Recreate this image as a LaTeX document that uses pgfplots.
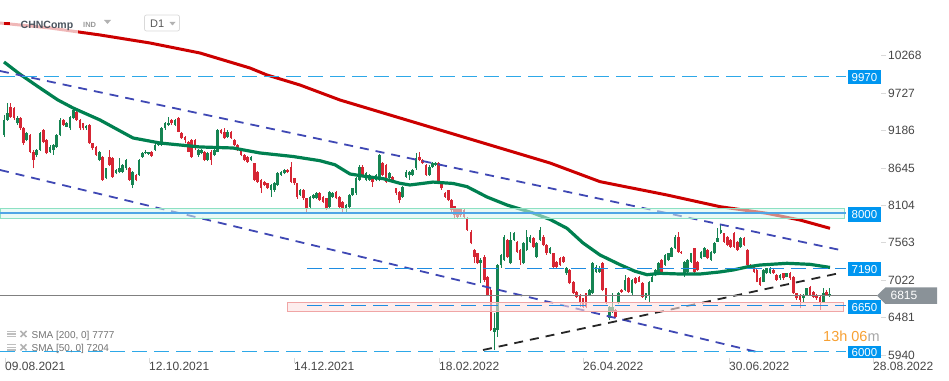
\documentclass[border=0pt]{standalone}
\usepackage{pgfplots}
\usepackage{pgfplotstable}
\pgfplotsset{compat=1.18}
\usepackage{fontspec}
\setmainfont{Liberation Sans}

\definecolor{cgreen}{RGB}{22,132,82}
\definecolor{cred}{RGB}{214,38,52}
\definecolor{sma200}{RGB}{204,0,0}
\definecolor{sma50}{RGB}{0,128,80}
\definecolor{chan}{RGB}{63,72,180}
\definecolor{hblue}{RGB}{45,168,232}
\definecolor{hblue2}{RGB}{30,140,225}
\definecolor{lineblue}{RGB}{80,165,230}
\definecolor{boxblue}{RGB}{0,150,240}
\definecolor{mintb}{RGB}{140,225,195}
\definecolor{mintf}{RGB}{215,246,236}
\definecolor{pinkb}{RGB}{240,165,165}
\definecolor{pinkf}{RGB}{252,225,225}
\definecolor{graybox}{RGB}{138,146,152}
\definecolor{labelc}{RGB}{70,70,70}
\definecolor{hdr}{RGB}{75,85,95}
\definecolor{timeor}{RGB}{247,160,50}

\newcommand{\pp}[2]{({(#1)*1bp},{(358-(#2))*1bp})}

\pgfplotstableread{
x o h l c
4 9121 9410 9097 9338
7.3 9338 9579 9328 9434
17.3 9290 9390 9270 9362
26.7 9049 9160 9030 9145
36.7 8832 8920 8800 8904
40 8904 9160 8890 9145
50 8880 8970 8860 8952
53.3 8904 8990 8832 8976
56.7 8952 9140 8940 9121
60 9121 9360 9100 9338
66.7 9242 9310 9230 9290
70 9217 9400 9200 9386
73.3 9362 9531 9350 9483
86 9217 9270 9200 9251
99.3 8759 8890 8740 8880
106 8494 8650 8480 8639
116 8566 8630 8550 8615
119.3 8590 8783 8570 8639
122.7 8590 8700 8570 8687
126 8639 8780 8620 8759
132.7 8398 8600 8350 8590
139 8542 8770 8530 8759
142.3 8808 8870 8790 8856
145.5 8856 8900 8840 8880
148.5 8850 8880 8830 8870
155 8904 8990 8890 8976
158.3 8976 9040 8960 9025
161.7 8976 9230 8960 9217
165 9217 9310 9200 9290
168.3 9266 9386 9250 9290
175 9266 9350 9250 9338
198.3 8832 8920 8800 8904
201.7 8856 8920 8840 8904
207.7 8759 8870 8740 8856
214.3 8832 8920 8810 8904
217.7 8880 9210 8870 9193
227.7 9097 9200 9080 9170
251 8759 8820 8740 8808
271 8325 8410 8229 8398
274.3 8325 8440 8300 8422
277.7 8398 8580 8380 8566
281 8542 8600 8530 8590
284.3 8566 8630 8550 8615
300 8253 8340 8240 8325
310 8084 8240 8060 8229
313.3 8205 8265 8190 8253
316.5 8205 8290 8190 8277
329.5 8084 8310 8070 8301
332.7 8229 8290 8210 8277
346 8060 8120 7988 8108
349.3 8084 8265 8070 8253
352.7 8253 8360 8240 8349
356 8277 8510 8260 8494
359.3 8470 8680 8450 8663
366 8470 8580 8450 8566
369.3 8470 8560 8460 8542
376 8470 8560 8450 8542
379.3 8470 8850 8450 8831
389.3 8494 8580 8480 8566
402.7 8229 8390 8210 8373
406 8518 8610 8500 8590
409.3 8542 8600 8470 8590
412.7 8542 8630 8530 8615
416 8639 8856 8620 8783
429.3 8542 8680 8530 8663
432.5 8663 8730 8650 8711
435.5 8687 8730 8670 8711
480.5 7265 7337 6975 7313
494.3 6276 6546 6011 6329
497.7 6300 7260 6203 7241
501 7241 7400 7200 7385
504.2 7313 7670 7300 7651
510.7 7265 7723 7250 7602
514 7602 7720 7590 7699
523.5 7265 7570 7250 7554
526.8 7458 7747 7440 7651
530 7578 7670 7560 7651
536.7 7361 7570 7340 7554
540 7602 7790 7590 7747
550 7410 7500 7400 7482
566.7 7120 7210 7100 7193
589.5 6807 6890 6790 6880
592.7 6831 7280 6820 7265
596 7144 7240 7130 7217
599.3 7144 7220 7130 7193
609.3 6469 6650 6450 6638
612.5 6566 6831 6550 6638
618.5 6686 6850 6670 6831
625.2 6879 7096 6860 7023
632.2 6831 7040 6810 7023
645.8 6758 6840 6740 6831
649 6807 7010 6686 7000
652.2 7000 7090 6990 7072
655.4 7096 7180 7080 7168
658.6 7144 7280 7130 7265
665 7241 7400 7230 7385
668.3 7313 7420 7300 7409
671.6 7361 7500 7350 7482
675 7482 7670 7470 7650
684.5 7120 7300 7072 7289
687.7 7144 7320 7130 7313
691 7289 7420 7270 7409
701 7337 7440 7320 7433
704.3 7361 7500 7350 7482
711 7313 7440 7300 7433
714.3 7409 7570 7400 7554
717.5 7578 7771 7570 7626
720.8 7699 7819 7690 7747
740.7 7506 7640 7490 7626
763.3 7000 7180 6990 7168
766.6 7120 7200 7110 7193
770 7120 7205 7110 7193
780 7048 7110 7030 7096
786.7 7072 7130 7060 7120
803.3 6758 6820 6686 6807
806.6 6807 6910 6790 6903
823.3 6710 6903 6700 6831
829.6 6792 6903 6780 6815
}\upc

\pgfplotstableread{
x o h l c
10.7 9531 9579 9370 9386
14 9507 9530 9340 9362
20.7 9362 9380 9200 9217
23.5 9217 9230 8980 9000
30 9121 9140 8860 8880
33.3 8880 8900 8639 8759
43.3 9193 9210 9000 9025
46.7 9049 9060 8840 8856
63.3 9338 9350 9250 9266
76.7 9459 9480 9320 9338
80 9338 9350 9190 9217
83 9290 9300 9200 9217
89.3 9266 9280 8990 9000
92.7 9000 9010 8910 8928
96 8952 8960 8820 8832
102.7 8808 8820 8460 8470
109.3 8808 8904 8670 8687
112.7 8783 8800 8500 8518
129.3 8639 8660 8455 8470
136 8542 8560 8450 8470
151.7 8880 8895 8800 8818
171.7 9338 9350 9270 9290
178.3 9362 9380 9160 9170
181.7 9145 9160 9060 9073
185 9097 9110 9000 9049
188.3 9025 9040 8870 8880
191.7 9049 9060 8790 8808
195 9049 9060 8900 8928
204.5 8880 8890 8740 8759
211 8880 8900 8687 8759
221 9193 9210 9130 9145
224.3 9170 9217 9060 9073
231 9170 9180 9060 9073
234.3 9049 9060 8960 8976
237.7 8976 8990 8890 8904
241 8928 8940 8810 8832
244.3 8832 8850 8740 8759
247.7 8808 8820 8720 8735
254.3 8711 8720 8455 8470
257.7 8590 8600 8430 8446
261 8470 8480 8280 8350
264.3 8446 8460 8380 8398
267.7 8422 8430 8340 8350
287.7 8615 8630 8570 8590
291 8663 8735 8430 8446
294.3 8494 8500 8400 8422
297 8422 8430 8200 8229
303.3 8325 8340 8180 8205
306.7 8205 8210 8012 8060
319.7 8277 8290 8170 8180
323 8229 8240 8140 8157
326.3 8205 8210 8040 8060
336 8301 8310 8190 8205
339.3 8229 8240 8070 8084
342.7 8157 8170 7988 8060
362.7 8663 8680 8530 8542
372.7 8518 8530 8373 8446
382.7 8711 8730 8530 8542
386 8687 8700 8430 8446
392.7 8518 8530 8450 8470
396 8349 8360 8260 8277
399.3 8301 8310 8132 8180
419.3 8808 8880 8740 8759
422.5 8759 8770 8700 8711
426 8687 8700 8530 8542
438.5 8711 8730 8430 8446
441.7 8446 8460 8330 8349
445 8277 8290 8210 8229
448.3 8325 8330 8160 8180
451.5 8180 8190 8000 8036
454.5 8094 8100 7900 7963
457.5 8060 8070 7900 7940
460.7 8060 8070 7940 7963
464 8036 8050 7920 7940
467 7915 7930 7730 7747
471 7723 7747 7540 7554
474.3 7458 7470 7265 7361
477.3 7410 7420 7250 7265
484.3 7361 7380 7000 7024
487.7 7072 7085 6790 6806
490.8 6879 6890 6290 6300
507.3 7602 7620 7340 7361
517 7578 7590 7420 7434
520 7458 7470 7241 7313
533.3 7626 7640 7490 7506
543.3 7651 7670 7510 7530
546.7 7530 7540 7390 7410
553.3 7410 7420 7200 7217
556.7 7289 7300 7200 7217
560 7337 7350 7230 7241
563.3 7361 7370 7270 7289
569.7 7168 7180 6960 6976
573.3 7000 7010 6820 6831
576.7 6855 6870 6770 6783
580 6807 6820 6640 6710
583 6759 6770 6620 6638
586 6831 6840 6620 6638
602.7 7265 7280 6860 6879
606 6903 6910 6670 6686
615.5 6590 6600 6480 6493
621.7 6879 6890 6840 6855
628.5 7048 7060 6840 6855
635.7 7048 7072 6960 6976
639 7072 7080 6990 7000
642.5 6976 6990 6770 6782
661.7 7313 7330 7130 7144
678.3 7650 7723 7420 7433
681.2 7433 7440 7400 7409
694.3 7482 7490 7130 7144
697.7 7289 7300 7150 7168
707.7 7457 7470 7320 7337
724 7699 7710 7560 7578
727.3 7650 7660 7510 7530
730.5 7602 7610 7490 7506
734 7699 7723 7490 7506
737.3 7578 7590 7440 7457
744 7626 7640 7520 7530
747.3 7457 7470 7230 7241
750.7 7241 7250 7180 7193
754 7217 7230 7130 7144
756.8 7168 7180 6990 7000
760 7048 7060 6940 6951
773.3 7168 7180 7110 7120
776.7 7096 7110 7010 7024
783.3 7120 7130 7030 7048
790 7120 7140 7030 7048
793.3 7072 7080 6820 6831
796.7 6831 6840 6740 6758
800 6807 6820 6614 6734
810 6927 6940 6790 6807
813.3 6855 6870 6770 6783
816.7 6807 6820 6740 6758
820 6783 6790 6590 6710
826.5 6855 6880 6790 6807
}\downc

\begin{document}
\begin{tikzpicture}
\path[use as bounding box] (0,-23bp) rectangle (949bp,358bp);
\begin{axis}[
  at={(0,0)}, anchor=south west,
  scale only axis, width=881bp, height=358bp,
  xmin=0, xmax=881, ymin=5895, ymax=11074,
  axis line style={draw=none},
  clip=false,
  scaled x ticks=false, scaled y ticks=false,
  xtick pos=bottom, ytick pos=right,
  xtick={5,149,294,439,583,729,873},
  xticklabels={09.08.2021,12.10.2021,14.12.2021,18.02.2022,26.04.2022,30.06.2022,28.08.2022},
  ytick={5940,6481,7022,7563,8104,8645,9186,9727,10268},
  yticklabels={5940,6481,7022,7563,8104,8645,9186,9727,10268},
  yticklabel pos=right,
  tick align=outside,
  major tick length=5bp,
  tick style={draw=black!15, line width=0.7bp},
  /pgf/number format/assume math mode=true,
  xticklabel style={anchor=north west, inner sep=0pt, text=labelc, font=\fontsize{12bp}{14bp}\selectfont, yshift=1bp},
  yticklabel style={anchor=west, inner sep=0pt, text=labelc, font=\fontsize{12bp}{14bp}\selectfont, xshift=2bp},
]
% wicks
\addplot[draw=none, mark=none, forget plot,
  error bars/.cd, y dir=plus, y explicit, error mark=none,
  error bar style={line width=0.9bp, draw=cgreen, solid}]
  table[x=x, y=l, y error plus expr=\thisrow{h}-\thisrow{l}] {\upc};
\addplot[draw=none, mark=none, forget plot,
  error bars/.cd, y dir=plus, y explicit, error mark=none,
  error bar style={line width=0.9bp, draw=cred, solid}]
  table[x=x, y=l, y error plus expr=\thisrow{h}-\thisrow{l}] {\downc};
% bodies
\addplot[draw=none, mark=none, forget plot,
  error bars/.cd, y dir=plus, y explicit, error mark=none,
  error bar style={line width=2.5bp, draw=cgreen, solid}]
  table[x=x, y=o, y error plus expr=\thisrow{c}-\thisrow{o}] {\upc};
\addplot[draw=none, mark=none, forget plot,
  error bars/.cd, y dir=plus, y explicit, error mark=none,
  error bar style={line width=2.5bp, draw=cred, solid}]
  table[x=x, y=c, y error plus expr=\thisrow{o}-\thisrow{c}] {\downc};

% SMA 50
\addplot[sma50, line width=3.2bp, line join=round, mark=none] coordinates {
(4,10177)(20,10000)(40,9801)(58,9627)(73,9512)(100,9338)(120,9180)(133,9078)(160,9005)
(200,8948)(233,8933)(260,8861)(293,8810)(320,8749)(335,8690)(350,8557)(367,8518)
(383,8490)(400,8422)(410,8398)(433,8440)(453,8420)(467,8374)(487,8224)(507,8108)
(533,7993)(550,7900)(567,7771)(583,7559)(600,7385)(620,7245)(635,7150)(647,7100)
(660,7120)(680,7110)(700,7110)(720,7140)(733,7168)(747,7212)(760,7240)(787,7265)
(810,7250)(830,7205)};
% SMA 200
\addplot[sma200, line width=3bp, line join=round, mark=none] coordinates {
(0,10741)(50,10669)(100,10568)(150,10452)(200,10307)(250,10090)(267,9989)(300,9844)
(340,9627)(400,9367)(450,9150)(500,8933)(550,8716)(600,8446)(667,8253)(720,8084)
(767,7988)(800,7891)(830,7771)};
% channel lines
\addplot[chan, line width=1.8bp, dash pattern=on 9bp off 7bp, mark=none] coordinates {(0,10047)(840,7458)};
\addplot[chan, line width=1.8bp, dash pattern=on 9bp off 7bp, mark=none] coordinates {(0,8615)(757,5982)};
\addplot[black!85, line width=1.8bp, dash pattern=on 9bp off 7bp, mark=none] coordinates {(483,6011)(840,7125)};
% 8000 zone
\addplot[draw=mintb, line width=0.9bp, fill=mintf, fill opacity=0.55, mark=none] coordinates {(0,7916)(844,7916)(844,8061)(0,8061)} -- cycle;
\addplot[lineblue, line width=1.4bp, mark=none] coordinates {(0,7990)(846,7990)};
% 6650 zone
\addplot[draw=pinkb, line width=0.8bp, fill=pinkf, fill opacity=0.6, mark=none] coordinates {(287,6575)(843,6575)(843,6701)(287,6701)} -- cycle;
% horizontal levels
\addplot[hblue, line width=1.2bp, dash pattern=on 15bp off 7bp, mark=none] coordinates {(0,9970)(846,9970)};
\addplot[hblue2, line width=1.2bp, dash pattern=on 15bp off 7bp, mark=none] coordinates {(307,7190)(846,7190)};
\addplot[hblue2, line width=1.2bp, dash pattern=on 15bp off 7bp, mark=none] coordinates {(307,6650)(846,6650)};
\addplot[hblue, line width=1.2bp, dash pattern=on 15bp off 7bp, mark=none] coordinates {(0,5985)(846,5985)};
\addplot[black!50, line width=0.9bp, mark=none] coordinates {(0,6805)(877,6805)};
\end{axis}

% header
\fill[white, opacity=0.72] \pp{0}{10} rectangle \pp{78}{36};
\draw[sma200, line width=3bp] \pp{4}{24} -- \pp{10}{24};
\node[anchor=base west, inner sep=0pt, text=hdr, font=\bfseries\fontsize{10.5bp}{12bp}\selectfont] at \pp{20.5}{28.5} {CHNComp};
\node[anchor=base west, inner sep=0pt, text=black!40, font=\bfseries\fontsize{7.5bp}{9bp}\selectfont] at \pp{83}{27.5} {IND};
\fill[black!30] \pp{104}{20} -- \pp{111}{20} -- \pp{107.5}{24} -- cycle;
\draw[rounded corners=2bp, draw=black!15, fill=white, line width=0.7bp] \pp{144.5}{15} rectangle \pp{179.5}{31};
\node[anchor=base west, inner sep=0pt, text=black!65, font=\fontsize{11bp}{13bp}\selectfont] at \pp{150}{27} {D1};
\fill[black!30] \pp{169.5}{22} -- \pp{175.5}{22} -- \pp{172.5}{25.5} -- cycle;

% SMA legend
\foreach \yy/\txt in {334/{SMA [200, 0] 7777}, 347.3/{SMA [50, 0] 7204}} {
  \draw[black!25, line width=1.2bp] \pp{7}{\yy-2.6} -- \pp{16}{\yy-2.6} \pp{7}{\yy} -- \pp{16}{\yy} \pp{7}{\yy+2.6} -- \pp{16}{\yy+2.6};
  \draw[black!30, line width=1.6bp] \pp{20.5}{\yy-3} -- \pp{26.5}{\yy+3} \pp{20.5}{\yy+3} -- \pp{26.5}{\yy-3};
  \node[anchor=base west, inner sep=0pt, text=black!55, font=\fontsize{10bp}{12bp}\selectfont] at \pp{31.5}{\yy+4.2} {\txt};
}

% value boxes
\foreach \yy/\txt in {77.3/9970, 214.5/8000, 269.3/7190, 307.2/6650} {
  \fill[boxblue] \pp{848}{\yy-7.2} rectangle \pp{881}{\yy+7.2};
  \node[text=white, inner sep=0pt, font=\fontsize{11.5bp}{13bp}\selectfont] at \pp{864.5}{\yy} {\txt};
}
\begin{scope}
  \clip \pp{840}{340} rectangle \pp{885}{357.5};
  \fill[boxblue] \pp{848}{345.5} rectangle \pp{881}{360};
  \node[text=white, inner sep=0pt, font=\fontsize{11.5bp}{13bp}\selectfont] at \pp{864.5}{352.8} {6000};
\end{scope}
% current price
\fill[graybox] \pp{877}{295.6} -- \pp{885.5}{287.3} -- \pp{937}{287.3} -- \pp{937}{304} -- \pp{885.5}{304} -- cycle;
\node[text=white, inner sep=0pt, font=\fontsize{12bp}{14bp}\selectfont] at \pp{904}{295.6} {6815};
% timer
\node[anchor=base west, inner sep=0pt, font=\fontsize{14.5bp}{16bp}\selectfont] at \pp{823}{341} {\textcolor{timeor}{13h 06}\textcolor{black!35}{m}};
\end{tikzpicture}
\end{document}
